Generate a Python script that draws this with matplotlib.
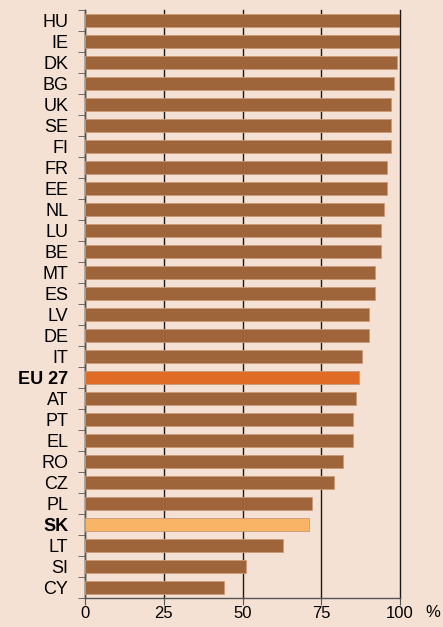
import matplotlib.pyplot as plt
import matplotlib.transforms as mtransforms

countries = ['HU', 'IE', 'DK', 'BG', 'UK', 'SE', 'FI', 'FR', 'EE', 'NL', 'LU', 'BE', 'MT', 'ES',
             'LV', 'DE', 'IT', 'EU 27', 'AT', 'PT', 'EL', 'RO', 'CZ', 'PL', 'SK', 'LT', 'SI', 'CY']
values = [100, 100, 99, 98, 97, 97, 97, 96, 96, 95, 94, 94, 92, 92,
          90, 90, 88, 87, 86, 85, 85, 82, 79, 72, 71, 63, 51, 44]
highlight = {'EU 27': '#E06B25', 'SK': '#F9B466'}
x_ticks = [0, 25, 50, 75, 100]

bg = '#F5E1D3'
bar_color = '#9E653A'

plt.rcParams['font.family'] = ['Liberation Sans', 'DejaVu Sans']

fig = plt.figure(figsize=(4.43, 6.27), dpi=100, facecolor=bg)
ax = fig.add_axes([0.192, 0.046, 0.711, 0.938], facecolor=bg)

ypos = list(range(len(countries)))[::-1]
colors = [highlight.get(c, bar_color) for c in countries]
ax.barh(ypos, values, height=0.6, color=colors, edgecolor='#C99A78', linewidth=0.6, zorder=3)

ax.set_xlim(0, 100)
ax.set_ylim(-0.5, len(countries) - 0.5)
ax.set_xticks(x_ticks)
ax.set_xticklabels([str(t) for t in x_ticks])
ax.set_yticks(ypos)
ax.set_yticklabels(countries)
for lbl in ax.get_yticklabels():
    if lbl.get_text() in highlight:
        lbl.set_fontweight('bold')

# ticks on the category axis sit between the bars
ax.set_yticks([y + 0.5 for y in range(-1, len(countries))], minor=True)
ax.tick_params(axis='y', which='major', length=0, labelsize=13, pad=12)
ax.tick_params(axis='y', which='minor', length=5, color='#555555')
ax.tick_params(axis='x', length=5, color='#555555', labelsize=12, pad=1)

ax.grid(axis='x', color='#1a1a1a', linewidth=1.0, zorder=0)
for gl in ax.get_xgridlines():
    gl.set_clip_on(False)
for side in ['top', 'right']:
    ax.spines[side].set_visible(False)
for side in ['left', 'bottom']:
    ax.spines[side].set_color('#555555')
    ax.spines[side].set_linewidth(1.0)

# unit sign after the last tick label
trans = mtransforms.blended_transform_factory(ax.transData, ax.transAxes)
ax.text(108, -0.025, '%', transform=trans, fontsize=12, ha='left', va='center')

fig.savefig('out.png', dpi=100, facecolor=bg)
